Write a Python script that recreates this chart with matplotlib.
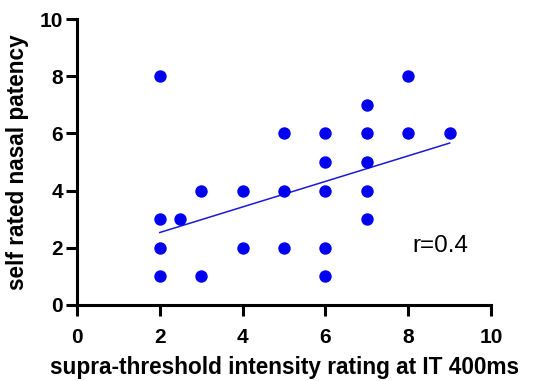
import matplotlib
matplotlib.use("Agg")
import matplotlib.pyplot as plt

# supra-threshold intensity rating (x) vs self rated nasal patency (y)
intensity = [2, 2, 2, 2, 2.5, 3, 3, 4, 4, 5, 5, 5, 6, 6, 6, 6, 6,
             7, 7, 7, 7, 7, 8, 8, 9]
patency = [8, 3, 2, 1, 3, 4, 1, 4, 2, 6, 4, 2, 6, 5, 4, 2, 1,
           7, 6, 5, 4, 3, 8, 6, 6]

# regression line endpoints
fit_x = [2, 9]
fit_y = [2.53, 5.66]

plt.rcParams["font.family"] = ["Liberation Sans", "DejaVu Sans"]

fig = plt.figure(figsize=(5.42, 3.81), dpi=100)
ax = fig.add_axes([0.142, 0.2, 0.764, 0.75])

ax.scatter(intensity, patency, s=80, color="#0000f0", zorder=3, linewidths=0)
ax.plot(fit_x, fit_y, color="#1a1ad6", lw=1.1, zorder=2)
ax.text(8.1, 2.05, "r=0.4", fontsize=17.5, va="center", ha="left")

ax.set_xlim(0, 10)
ax.set_ylim(0, 10)
ax.set_xticks([0, 2, 4, 6, 8, 10])
ax.set_yticks([0, 2, 4, 6, 8, 10])
for lab in ax.get_xticklabels() + ax.get_yticklabels():
    lab.set_fontweight("bold")
ax.tick_params(labelsize=15, width=2.2, length=8)
ax.tick_params(axis="x", pad=9)
ax.tick_params(axis="y", pad=2)

for side in ["top", "right"]:
    ax.spines[side].set_visible(False)
for side in ["left", "bottom"]:
    ax.spines[side].set_linewidth(2.2)

ax.set_xlabel("supra-threshold intensity rating at IT 400ms",
              fontsize=16.3, fontweight="bold", labelpad=6.5)
ax.set_ylabel("self rated nasal patency", fontsize=16.3, fontweight="bold",
              labelpad=8)

fig.savefig("out.png", dpi=100)
